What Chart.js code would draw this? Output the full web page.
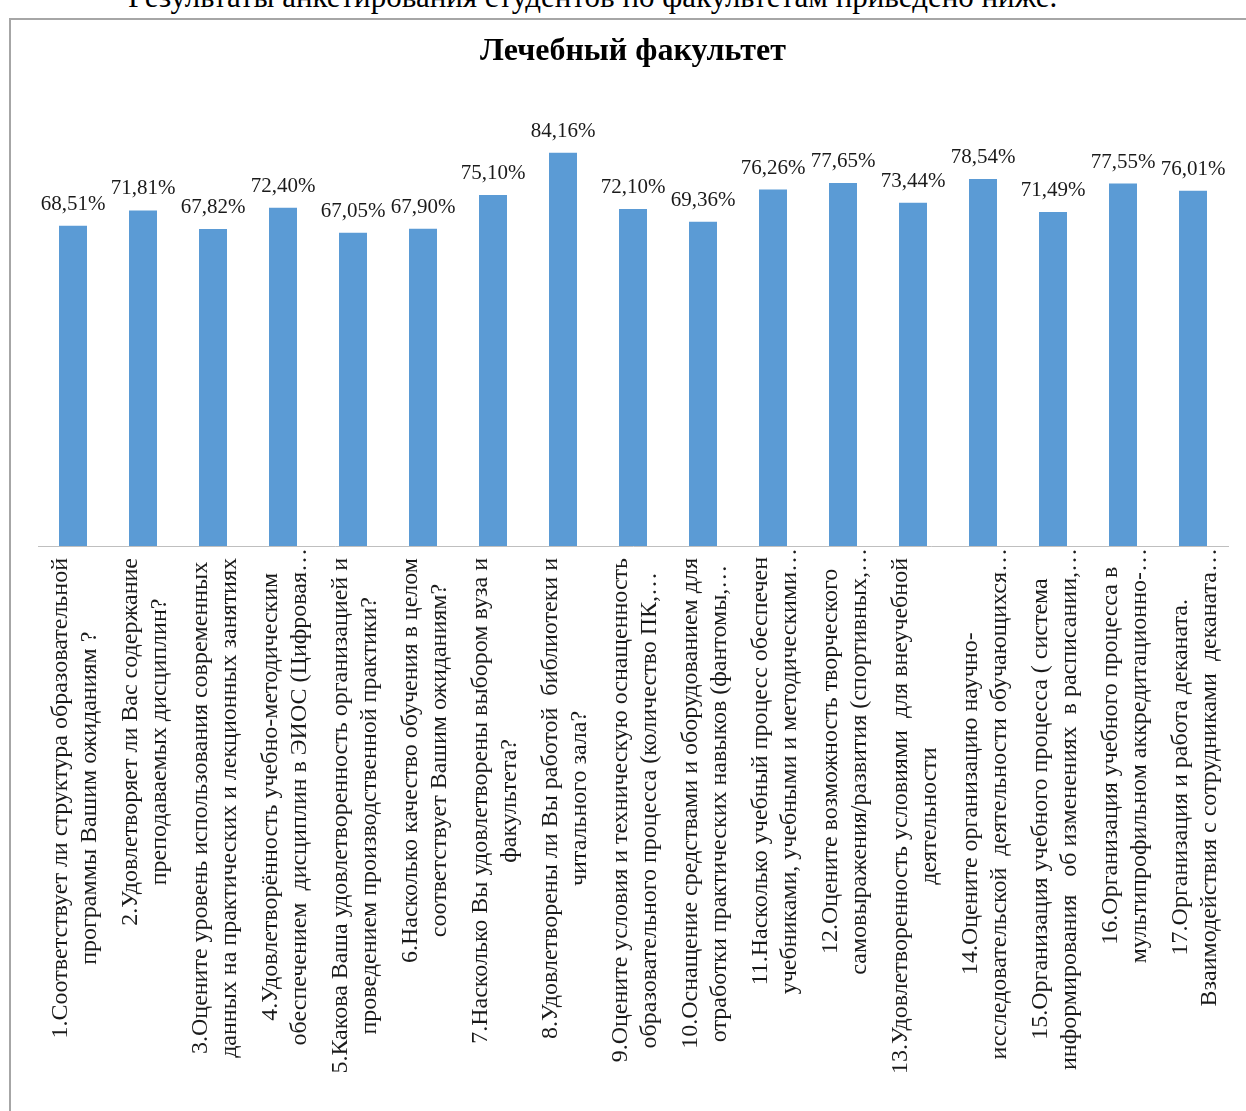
<!DOCTYPE html>
<html lang="ru">
<head>
<meta charset="utf-8">
<script src="https://cdn.jsdelivr.net/npm/chart.js@4.4.0/dist/chart.umd.min.js"></script>
<style>
  body { margin: 0; background: #fff; width: 1246px; height: 1111px; overflow: hidden; position: relative; font-family: "Liberation Serif", serif; }
  #intro { position: absolute; left: 128px; top: -21px; font-size: 31px; white-space: nowrap; color: #000; }
  #box { position: absolute; left: 9px; top: 18px; width: 1300px; height: 1200px; border: 2px solid #a6a6a6; }
  #chart { position: absolute; left: 11px; top: 20px; }
</style>
</head>
<body>
<div id="intro">Результаты анкетирования студентов по факультетам приведено ниже.</div>
<div id="box"></div>
<canvas id="chart" width="1242" height="1091"></canvas>
<script>
// ---------------------------
// данные
// ---------------------------
const TITLE = "Лечебный факультет";

const categories = [
  ["1.Соответствует ли структура образовательной", "программы Вашим ожиданиям ?"],
  ["2.Удовлетворяет ли Вас содержание", "преподаваемых дисциплин?"],
  ["3.Оцените уровень использования современных", "данных на практических и лекционных занятиях"],
  ["4.Удовлетворённость учебно-методическим", "обеспечением  дисциплин в ЭИОС (Цифровая…"],
  ["5.Какова Ваша удовлетворенность организацией и", "проведением производственной практики?"],
  ["6.Насколько качество обучения в целом", "соответствует Вашим ожиданиям?"],
  ["7.Насколько Вы удовлетворены выбором вуза и", "факультета?"],
  ["8.Удовлетворены ли Вы работой  библиотеки и", "читального зала?"],
  ["9.Оцените условия и техническую оснащенность", "образовательного процесса (количество ПК,…"],
  ["10.Оснащение средствами и оборудованием для", "отработки практических навыков (фантомы,…"],
  ["11.Насколько учебный процесс обеспечен", "учебниками, учебными и методическими…"],
  ["12.Оцените возможность творческого", "самовыражения/развития (спортивных,…"],
  ["13.Удовлетворенность условиями  для внеучебной", "деятельности"],
  ["14.Оцените организацию научно-", "исследовательской  деятельности обучающихся…"],
  ["15.Организация учебного процесса ( система", "информирования   об изменениях  в расписании,…"],
  ["16.Организация учебного процесса в", "мультипрофильном аккредитационно-…"],
  ["17.Организация и работа деканата.", "Взаимодействия с сотрудниками  деканата…"]
];

const values = [68.51, 71.81, 67.82, 72.40, 67.05, 67.90, 75.10, 84.16, 72.10,
                69.36, 76.26, 77.65, 73.44, 78.54, 71.49, 77.55, 76.01];

const Y_MAX = 90;

// формат подписи: 68,51%
function fmt(v) {
  return v.toFixed(2).replace(".", ",") + "%";
}

// ---------------------------
// плагин: подписи значений и повернутые подписи категорий
// ---------------------------
const labelsPlugin = {
  id: "labelsPlugin",
  afterDatasetsDraw(chart) {
    const ctx = chart.ctx;
    const meta = chart.getDatasetMeta(0);
    ctx.save();
    ctx.font = "21px 'Liberation Serif'";
    ctx.fillStyle = "#1a1a1a";
    ctx.textAlign = "center";
    ctx.textBaseline = "alphabetic";
    meta.data.forEach((bar, i) => {
      ctx.fillText(fmt(values[i]), bar.x, bar.y - 16);
    });
    ctx.restore();
  },
  afterDraw(chart) {
    const ctx = chart.ctx;
    const xs = chart.scales.x;
    const axisY = chart.chartArea.bottom;
    const lh = 29;
    ctx.save();
    ctx.font = "24px 'Liberation Serif'";
    ctx.fillStyle = "#1a1a1a";
    ctx.textAlign = "center";
    ctx.textBaseline = "middle";
    categories.forEach((lines, i) => {
      const x = xs.getPixelForValue(i);
      const widths = lines.map(l => ctx.measureText(l).width);
      const w = Math.max(...widths);
      // если самая длинная строка обрезана («…»), она доходит почти до оси
      const longest = lines[widths.indexOf(w)];
      const gap = longest.endsWith("…") ? 2 : 12;
      ctx.save();
      ctx.translate(x + 2, axisY + gap + w / 2);
      ctx.rotate(-Math.PI / 2);
      lines.forEach((l, j) => {
        ctx.fillText(l, 0, (j - (lines.length - 1) / 2) * lh);
      });
      ctx.restore();
    });
    ctx.restore();
  }
};

// ---------------------------
// график
// ---------------------------
const ctx = document.getElementById("chart").getContext("2d");
const chart = new Chart(ctx, {
  type: "bar",
  data: {
    labels: categories,
    datasets: [{
      data: values,
      backgroundColor: "#5b9bd5",
      borderWidth: 0,
      categoryPercentage: 1,
      barPercentage: 0.4
    }]
  },
  options: {
    responsive: false,
    animation: false,
    layout: { padding: { left: 27, right: 25, top: 0, bottom: 565 } },
    plugins: {
      legend: { display: false },
      tooltip: { enabled: false },
      title: {
        display: true,
        text: TITLE,
        color: "#000",
        font: { family: "'Liberation Serif'", size: 32, weight: "bold", lineHeight: 1.2 },
        padding: { top: 13, bottom: 54 }
      }
    },
    scales: {
      x: {
        grid: { display: false, drawTicks: false },
        border: { display: true, color: "#bfbfbf", width: 1 },
        ticks: { display: false }
      },
      y: {
        display: false,
        min: 0,
        max: Y_MAX
      }
    }
  },
  plugins: [labelsPlugin]
});
</script>
</body>
</html>
